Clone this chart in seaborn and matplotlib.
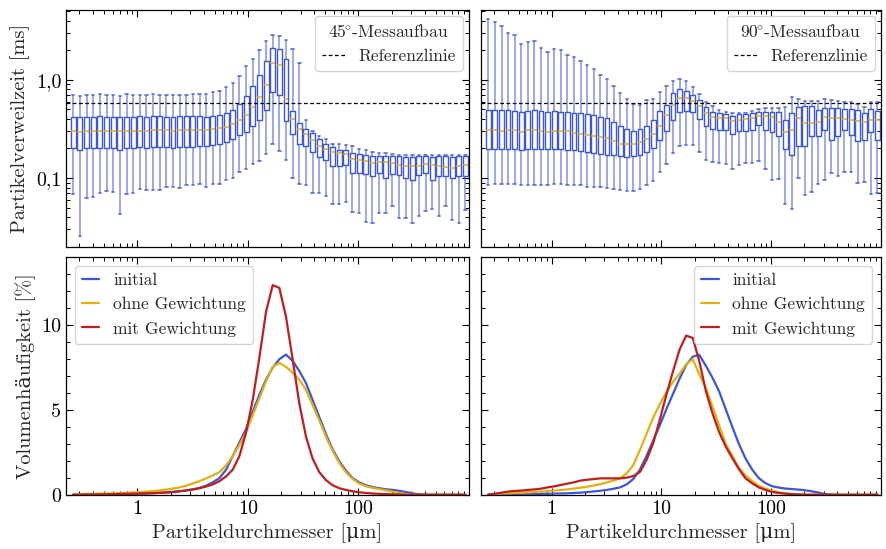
import numpy as np
import pandas as pd
import matplotlib
matplotlib.use("Agg")
import matplotlib.pyplot as plt
import matplotlib.ticker as mticker
import seaborn as sns

# ---------------- data ----------------
# particle size classes [µm]
diameter = [0.264, 0.303, 0.349, 0.400, 0.460, 0.528, 0.607, 0.697, 0.800, 0.918,
            1.054, 1.211, 1.391, 1.597, 1.834, 2.106, 2.419, 2.778, 3.191, 3.665,
            4.207, 4.832, 5.549, 6.373, 7.317, 8.404, 9.652, 11.08, 12.73, 14.62,
            16.79, 19.28, 22.14, 25.43, 29.21, 33.54, 38.52, 44.24, 50.81, 58.35,
            67.0, 76.9, 88.4, 101.5, 116.5, 133.8, 153.7, 176.5, 202.7, 232.8,
            267.3, 307.0, 352.6, 404.9, 465.0, 534.0, 613.3, 704.3, 808.9, 928.9]

# residence time [ms], 45° setup: whisker low, Q1, median, Q3, whisker high
t45_lo = [0.069, 0.026, 0.063, 0.064, 0.070, 0.073, 0.072, 0.043, 0.069, 0.071,
          0.077, 0.075, 0.075, 0.075, 0.081, 0.082, 0.080, 0.084, 0.085, 0.086,
          0.082, 0.087, 0.086, 0.095, 0.100, 0.114, 0.123, 0.140, 0.150, 0.175,
          0.220, 0.187, 0.154, 0.100, 0.087, 0.084, 0.071, 0.070, 0.065, 0.055,
          0.055, 0.057, 0.045, 0.044, 0.036, 0.035, 0.044, 0.044, 0.052, 0.039,
          0.039, 0.035, 0.041, 0.046, 0.048, 0.041, 0.052, 0.037, 0.035, 0.047]
t45_q1 = [0.203, 0.191, 0.201, 0.203, 0.203, 0.203, 0.203, 0.194, 0.203, 0.203,
          0.205, 0.203, 0.205, 0.205, 0.205, 0.203, 0.205, 0.205, 0.207, 0.213,
          0.210, 0.215, 0.223, 0.232, 0.249, 0.274, 0.296, 0.335, 0.392, 0.491,
          0.749, 0.698, 0.380, 0.284, 0.223, 0.213, 0.184, 0.163, 0.154, 0.134,
          0.134, 0.137, 0.112, 0.112, 0.110, 0.104, 0.112, 0.100, 0.110, 0.108,
          0.100, 0.096, 0.108, 0.112, 0.096, 0.104, 0.106, 0.100, 0.106, 0.106]
t45_med = [0.303, 0.294, 0.300, 0.300, 0.300, 0.300, 0.300, 0.299, 0.300, 0.303,
           0.303, 0.303, 0.305, 0.305, 0.305, 0.303, 0.305, 0.305, 0.308, 0.305,
           0.308, 0.315, 0.322, 0.330, 0.354, 0.392, 0.437, 0.532, 0.666, 0.882,
           1.500, 1.410, 0.636, 0.398, 0.315, 0.280, 0.243, 0.210, 0.197, 0.185,
           0.180, 0.175, 0.156, 0.154, 0.148, 0.142, 0.144, 0.144, 0.142, 0.137,
           0.133, 0.133, 0.133, 0.140, 0.136, 0.133, 0.131, 0.126, 0.134, 0.136]
t45_q3 = [0.420, 0.417, 0.420, 0.420, 0.424, 0.420, 0.417, 0.417, 0.417, 0.420,
          0.424, 0.420, 0.424, 0.424, 0.420, 0.420, 0.424, 0.424, 0.424, 0.424,
          0.420, 0.430, 0.441, 0.458, 0.495, 0.570, 0.677, 0.862, 1.120, 1.540,
          2.100, 2.050, 1.640, 0.480, 0.362, 0.315, 0.287, 0.249, 0.223, 0.208,
          0.194, 0.191, 0.180, 0.177, 0.172, 0.169, 0.166, 0.166, 0.166, 0.166,
          0.164, 0.164, 0.166, 0.166, 0.164, 0.166, 0.166, 0.164, 0.166, 0.169]
t45_hi = [0.700, 0.690, 0.700, 0.700, 0.710, 0.700, 0.700, 0.690, 0.710, 0.700,
          0.700, 0.700, 0.710, 0.700, 0.700, 0.700, 0.700, 0.700, 0.710, 0.715,
          0.715, 0.743, 0.773, 0.842, 0.925, 1.100, 1.370, 1.620, 2.020, 2.470,
          2.850, 2.800, 2.550, 2.050, 1.480, 0.386, 0.300, 0.269, 0.249, 0.223,
          0.223, 0.215, 0.210, 0.199, 0.194, 0.184, 0.180, 0.180, 0.177, 0.173,
          0.173, 0.170, 0.173, 0.173, 0.173, 0.173, 0.173, 0.170, 0.170, 0.173]

# residence time [ms], 90° setup
t90_lo = [0.084, 0.086, 0.086, 0.086, 0.086, 0.084, 0.084, 0.084, 0.085, 0.085,
          0.086, 0.086, 0.085, 0.084, 0.084, 0.082, 0.082, 0.081, 0.079, 0.078,
          0.076, 0.074, 0.074, 0.078, 0.084, 0.0925, 0.114, 0.140, 0.180, 0.213,
          0.217, 0.218, 0.183, 0.151, 0.146, 0.142, 0.138, 0.125, 0.137, 0.142,
          0.142, 0.148, 0.125, 0.096, 0.098, 0.055, 0.048, 0.100, 0.067, 0.072,
          0.087, 0.096, 0.112, 0.106, 0.114, 0.115, 0.090, 0.091, 0.069, 0.070]
t90_q1 = [0.197, 0.197, 0.197, 0.197, 0.197, 0.194, 0.197, 0.199, 0.196, 0.196,
          0.196, 0.196, 0.194, 0.191, 0.188, 0.184, 0.181, 0.177, 0.173, 0.173,
          0.166, 0.163, 0.166, 0.173, 0.184, 0.203, 0.245, 0.303, 0.392, 0.469,
          0.484, 0.466, 0.398, 0.340, 0.315, 0.310, 0.305, 0.278, 0.298, 0.298,
          0.310, 0.346, 0.310, 0.291, 0.269, 0.197, 0.173, 0.210, 0.213, 0.265,
          0.265, 0.310, 0.245, 0.265, 0.310, 0.276, 0.236, 0.245, 0.291, 0.245]
t90_med = [0.310, 0.310, 0.303, 0.310, 0.305, 0.294, 0.305, 0.308, 0.298, 0.294,
           0.298, 0.298, 0.298, 0.289, 0.282, 0.276, 0.269, 0.261, 0.253, 0.236,
           0.223, 0.220, 0.220, 0.231, 0.249, 0.280, 0.340, 0.434, 0.557, 0.646,
           0.646, 0.602, 0.536, 0.458, 0.417, 0.410, 0.404, 0.380, 0.392, 0.398,
           0.404, 0.424, 0.430, 0.417, 0.368, 0.291, 0.310, 0.407, 0.362, 0.362,
           0.368, 0.417, 0.407, 0.404, 0.398, 0.386, 0.380, 0.374, 0.386, 0.386]
t90_q3 = [0.495, 0.495, 0.488, 0.488, 0.476, 0.473, 0.484, 0.488, 0.476, 0.473,
          0.476, 0.473, 0.469, 0.458, 0.455, 0.444, 0.437, 0.420, 0.407, 0.368,
          0.335, 0.315, 0.298, 0.315, 0.335, 0.386, 0.476, 0.557, 0.732, 0.804,
          0.773, 0.698, 0.616, 0.527, 0.473, 0.458, 0.444, 0.430, 0.444, 0.444,
          0.458, 0.469, 0.473, 0.466, 0.469, 0.392, 0.458, 0.527, 0.536, 0.536,
          0.488, 0.515, 0.519, 0.515, 0.503, 0.503, 0.495, 0.458, 0.503, 0.480]
t90_hi = [4.140, 3.860, 3.540, 3.030, 2.870, 2.320, 2.400, 2.510, 2.130, 1.910,
          2.050, 2.000, 1.780, 1.690, 1.540, 1.420, 1.290, 1.120, 1.016, 0.870,
          0.730, 0.640, 0.566, 0.553, 0.626, 0.636, 0.743, 0.869, 0.977, 1.030,
          0.969, 0.842, 0.715, 0.600, 0.536, 0.495, 0.466, 0.458, 0.458, 0.458,
          0.480, 0.507, 0.515, 0.511, 0.511, 0.527, 0.666, 0.641, 0.602, 0.607,
          0.607, 0.636, 0.616, 0.607, 0.588, 0.588, 0.561, 0.527, 0.588, 0.588]

reference_time = 0.58  # ms

# volume frequency [%], left (45°)
vol45_initial = [0.02, 0.02, 0.03, 0.03, 0.04, 0.04, 0.05, 0.05, 0.06, 0.07,
                 0.08, 0.09, 0.11, 0.13, 0.15, 0.18, 0.22, 0.27, 0.33, 0.42,
                 0.55, 0.75, 1.00, 1.50, 2.30, 3.10, 3.90, 4.90, 5.90, 6.80,
                 7.50, 8.00, 8.27, 7.90, 7.30, 6.60, 5.60, 4.60, 3.60, 2.70,
                 2.00, 1.45, 1.00, 0.75, 0.58, 0.47, 0.40, 0.34, 0.30, 0.25,
                 0.18, 0.10, 0.04, 0.01, 0.00, 0.00, 0.00, 0.00, 0.00, 0.00]
vol45_ohne = [0.04, 0.05, 0.06, 0.07, 0.08, 0.09, 0.10, 0.11, 0.13, 0.15,
              0.17, 0.20, 0.23, 0.27, 0.32, 0.38, 0.45, 0.55, 0.68, 0.82,
              0.98, 1.15, 1.35, 1.75, 2.30, 2.95, 3.70, 4.70, 5.70, 6.70,
              7.55, 7.78, 7.55, 7.20, 6.80, 6.20, 5.30, 4.40, 3.45, 2.60,
              1.90, 1.35, 0.95, 0.68, 0.52, 0.42, 0.35, 0.28, 0.20, 0.12,
              0.06, 0.02, 0.01, 0.01, 0.01, 0.01, 0.01, 0.01, 0.01, 0.01]
vol45_mit = [0.02, 0.02, 0.03, 0.03, 0.04, 0.04, 0.05, 0.06, 0.07, 0.08,
             0.09, 0.10, 0.11, 0.13, 0.15, 0.18, 0.22, 0.27, 0.33, 0.40,
             0.50, 0.63, 0.82, 1.10, 1.50, 2.30, 3.70, 5.60, 8.10, 10.80,
             12.36, 12.20, 10.50, 8.00, 5.40, 3.45, 2.15, 1.35, 0.88, 0.58,
             0.40, 0.30, 0.22, 0.16, 0.12, 0.09, 0.07, 0.05, 0.04, 0.03,
             0.02, 0.02, 0.02, 0.02, 0.02, 0.02, 0.02, 0.02, 0.02, 0.02]

# volume frequency [%], right (90°)
vol90_initial = [0.01, 0.01, 0.02, 0.02, 0.03, 0.03, 0.04, 0.05, 0.06, 0.07,
                 0.08, 0.09, 0.10, 0.12, 0.14, 0.17, 0.21, 0.25, 0.30, 0.37,
                 0.45, 0.63, 0.95, 1.50, 2.30, 3.20, 4.10, 5.05, 5.95, 6.85,
                 7.65, 8.15, 8.25, 7.60, 6.90, 6.10, 5.05, 4.00, 3.00, 2.15,
                 1.50, 1.00, 0.70, 0.52, 0.44, 0.38, 0.35, 0.32, 0.28, 0.22,
                 0.15, 0.06, 0.02, 0.00, 0.00, 0.00, 0.00, 0.00, 0.00, 0.00]
vol90_ohne = [0.03, 0.06, 0.08, 0.10, 0.12, 0.14, 0.16, 0.18, 0.20, 0.23,
              0.26, 0.29, 0.33, 0.38, 0.43, 0.49, 0.56, 0.64, 0.74, 0.85,
              0.98, 1.28, 1.77, 2.66, 3.60, 4.55, 5.35, 6.05, 6.65, 7.15,
              7.70, 8.00, 7.10, 6.30, 5.20, 4.10, 3.00, 2.30, 1.60, 1.15,
              0.82, 0.55, 0.38, 0.25, 0.16, 0.10, 0.06, 0.04, 0.02, 0.01,
              0.01, 0.01, 0.01, 0.01, 0.01, 0.01, 0.01, 0.01, 0.01, 0.01]
vol90_mit = [0.02, 0.07, 0.14, 0.20, 0.24, 0.26, 0.30, 0.33, 0.37, 0.45,
             0.51, 0.59, 0.67, 0.75, 0.85, 0.90, 0.94, 0.98, 0.98, 0.98,
             0.98, 1.02, 1.12, 1.36, 2.07, 3.05, 4.43, 5.90, 7.28, 8.56,
             9.39, 9.25, 7.87, 6.10, 4.80, 3.70, 2.85, 2.17, 1.52, 0.98,
             0.69, 0.45, 0.30, 0.18, 0.12, 0.08, 0.05, 0.03, 0.02, 0.02,
             0.02, 0.02, 0.02, 0.02, 0.02, 0.02, 0.02, 0.02, 0.02, 0.02]

series_labels = ["initial", "ohne Gewichtung", "mit Gewichtung"]
setup_titles = [r"$45^{\!\!\circ}\!$-Messaufbau", r"$90^{\!\!\circ}\!$-Messaufbau"]
x_label = "Partikeldurchmesser [\u03bcm]"
x_tick_values = [1, 10, 100]
x_tick_labels = ["1", "10", "100"]
t_tick_values = [0.1, 1.0]
t_tick_labels = ["0,1", "1,0"]
v_tick_values = [0, 5, 10]
v_tick_labels = ["0", "5", "10"]

# ---------------- style ----------------
sns.set_style("ticks")
plt.rcParams.update({
    "font.family": ["cmr10", "DejaVu Serif"],
    "mathtext.fontset": "cm",
    "axes.formatter.use_mathtext": True,
    "axes.unicode_minus": False,
    "axes.linewidth": 0.9,
    "axes.edgecolor": "black",
    "xtick.direction": "in",
    "ytick.direction": "in",
    "xtick.top": True,
    "ytick.right": True,
    "xtick.major.size": 5,
    "ytick.major.size": 5,
    "xtick.minor.size": 3,
    "ytick.minor.size": 3,
    "xtick.major.width": 0.8,
    "ytick.major.width": 0.8,
    "xtick.minor.width": 0.7,
    "ytick.minor.width": 0.7,
    "xtick.color": "black",
    "ytick.color": "black",
    "xtick.labelsize": 14.4,
    "ytick.labelsize": 14.4,
    "axes.labelsize": 14.7,
    "legend.fontsize": 12.6,
    "legend.title_fontsize": 12.6,
})

BLUE = "#3d55d8"
GOLD = "#e4b10c"
RED = "#c21d1d"

W, H = 886, 549
fig = plt.figure(figsize=(W / 100, H / 100), dpi=100)

def rect(x0, y0, x1, y1):
    return [x0 / W, 1 - y1 / H, (x1 - x0) / W, (y1 - y0) / H]

ax_tl = fig.add_axes(rect(66, 9.5, 469, 246.7))
ax_tr = fig.add_axes(rect(481, 9.5, 881, 246.7))
ax_bl = fig.add_axes(rect(66, 257.3, 469, 495))
ax_br = fig.add_axes(rect(481, 257.3, 881, 495))

XLIM = (0.227, 1000)

def box_frame(lo, q1, med, q3, hi):
    rows = []
    for d, a, b, c, e, f in zip(diameter, lo, q1, med, q3, hi):
        for v in (a, b, c, e, f):
            rows.append({"d": d, "t": v})
    return pd.DataFrame(rows)

box_sets = [
    (ax_tl, box_frame(t45_lo, t45_q1, t45_med, t45_q3, t45_hi), setup_titles[0]),
    (ax_tr, box_frame(t90_lo, t90_q1, t90_med, t90_q3, t90_hi), setup_titles[1]),
]

for ax, df, title in box_sets:
    sns.boxplot(data=df, x="d", y="t", native_scale=True, log_scale=(True, True),
                whis=(0, 100), width=0.75, fill=False, color=BLUE, linewidth=1.0,
                showfliers=False,
                medianprops=dict(color=GOLD, linewidth=1.3, alpha=0.85),
                whiskerprops=dict(color=BLUE, alpha=0.55, linewidth=1.3),
                capprops=dict(color=BLUE, alpha=0.85, linewidth=1.2),
                boxprops=dict(color=BLUE, linewidth=1.0),
                ax=ax)
    ax.axhline(reference_time, color="black", linestyle=(0, (3, 2)), linewidth=0.9,
               label="Referenzlinie")
    ax.set_xscale("log")
    ax.set_yscale("log")
    ax.set_ylim(0.02, 5.2)
    ax.set_xlim(*XLIM)
    ax.yaxis.set_major_locator(mticker.FixedLocator(t_tick_values))
    ax.yaxis.set_major_formatter(mticker.FixedFormatter(t_tick_labels))
    ax.yaxis.set_minor_locator(mticker.LogLocator(base=10, subs=range(2, 10)))
    ax.yaxis.set_minor_formatter(mticker.NullFormatter())
    ax.set_xlabel("")
    ax.set_ylabel("")
    ax.tick_params(axis="x", which="both", labelbottom=False)
    leg = ax.legend(title=title, loc="upper right", handlelength=1.3,
                    borderaxespad=0.35)
    leg.get_frame().set_linewidth(1.0)

line_sets = [
    (ax_bl, [vol45_initial, vol45_ohne, vol45_mit], "upper left"),
    (ax_br, [vol90_initial, vol90_ohne, vol90_mit], "upper right"),
]
for ax, series, loc in line_sets:
    for vals, col, lab in zip(series, [BLUE, GOLD, RED], series_labels):
        sns.lineplot(x=diameter, y=vals, color=col, linewidth=1.6, label=lab, ax=ax)
    ax.set_xscale("log")
    ax.set_xlim(*XLIM)
    ax.set_ylim(0, 14)
    ax.yaxis.set_major_locator(mticker.FixedLocator(v_tick_values))
    ax.yaxis.set_major_formatter(mticker.FixedFormatter(v_tick_labels))
    ax.yaxis.set_minor_locator(mticker.MultipleLocator(1))
    ax.set_xlabel(x_label)
    ax.set_ylabel("")
    leg = ax.legend(loc=loc, handlelength=1.0, borderaxespad=0.5)
    leg.get_frame().set_linewidth(1.0)

for ax in (ax_tl, ax_tr, ax_bl, ax_br):
    ax.xaxis.set_major_locator(mticker.FixedLocator(x_tick_values))
    ax.xaxis.set_major_formatter(mticker.FixedFormatter(x_tick_labels))
    ax.xaxis.set_minor_locator(mticker.LogLocator(base=10, subs=range(2, 10)))
    ax.xaxis.set_minor_formatter(mticker.NullFormatter())
    ax.tick_params(which="both", direction="in", top=True, right=True)
    for s in ax.spines.values():
        s.set_visible(True)
        s.set_linewidth(0.9)
        s.set_color("black")

for ax in (ax_tr, ax_br):
    ax.tick_params(axis="y", which="both", labelleft=False)

ax_tl.set_ylabel("Partikelverweilzeit [ms]")
ax_bl.set_ylabel("Volumenhäufigkeit [%]")

fig.savefig("out.png", dpi=100)
